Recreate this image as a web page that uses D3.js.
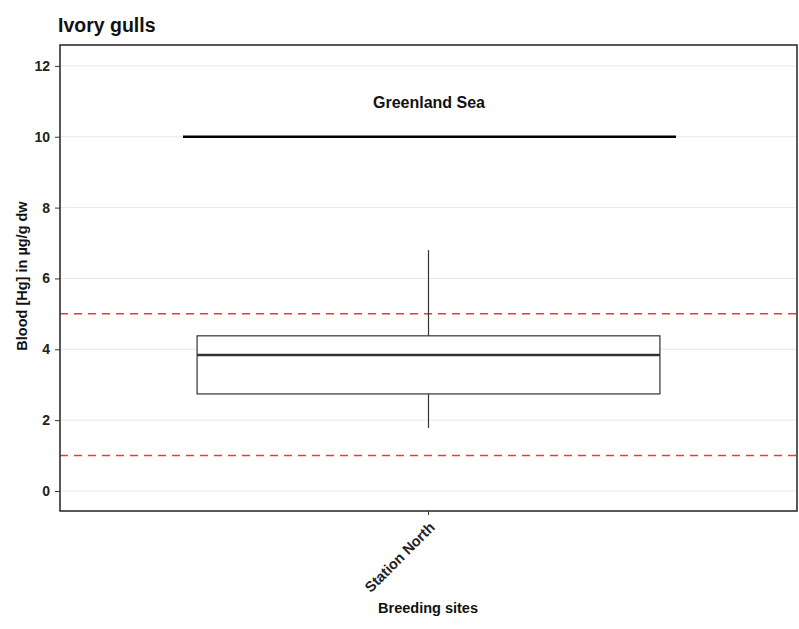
<!DOCTYPE html>
<html><head><meta charset="utf-8">
<script src="https://cdn.jsdelivr.net/npm/d3@7"></script>
<style>body{margin:0;background:#fff}text{font-family:"Liberation Sans",Arial,sans-serif;font-weight:bold}</style>
</head><body>
<svg id="c" width="799" height="629"></svg>
<script>
const categories = ["Station North"];
const whiskerLow = [1.78];
const q1 = [2.74];
const median = [3.84];
const q3 = [4.38];
const whiskerHigh = [6.8];
const thresholds = [1, 5];
const yTicks = [0, 2, 4, 6, 8, 10, 12];
const regionLabel = ["Greenland Sea"];
const regionLineY = [10];
const regionLabelY = [11];

const svg = d3.select("#c");
const L = 60, R = 797, T = 45, B = 511;
const y = d3.scaleLinear().domain([-0.565, 12.59]).range([B, T]);
const x = d3.scaleBand().domain(categories).range([L, R]);
const xc = c => x(c) + x.bandwidth() / 2;

svg.append("text").attr("x", 58).attr("y", 32).style("font-size", "19.5px").attr("fill", "#111").text("Ivory gulls");

// grid
svg.append("g").selectAll("line").data(yTicks).join("line")
  .attr("x1", L).attr("x2", R).attr("y1", d => y(d)).attr("y2", d => y(d))
  .attr("stroke", "#e8e8e8").attr("stroke-width", 1);

// region line + label
svg.append("line").attr("x1", 183).attr("x2", 676)
  .attr("y1", y(regionLineY[0])).attr("y2", y(regionLineY[0]))
  .attr("stroke", "#000").attr("stroke-width", 2.5);
svg.append("text").attr("x", 429).attr("y", y(regionLabelY[0]) + 6.5)
  .attr("text-anchor", "middle").style("font-size", "16px").attr("fill", "#111").text(regionLabel[0]);

// thresholds
svg.append("g").selectAll("line").data(thresholds).join("line")
  .attr("x1", L).attr("x2", R).attr("y1", d => y(d)).attr("y2", d => y(d))
  .attr("stroke", "#f03b32").attr("stroke-width", 1.5).attr("stroke-dasharray", "8,6");

// boxplot
const bw = x.bandwidth() * 0.628;
const g = svg.append("g");
categories.forEach((c, i) => {
  const cx = xc(c);
  g.append("line").attr("x1", cx).attr("x2", cx).attr("y1", y(q3[i])).attr("y2", y(whiskerHigh[i])).attr("stroke", "#333").attr("stroke-width", 1.2);
  g.append("line").attr("x1", cx).attr("x2", cx).attr("y1", y(q1[i])).attr("y2", y(whiskerLow[i])).attr("stroke", "#333").attr("stroke-width", 1.2);
  g.append("rect").attr("x", cx - bw / 2).attr("width", bw).attr("y", y(q3[i])).attr("height", y(q1[i]) - y(q3[i]))
    .attr("fill", "#fff").attr("stroke", "#333").attr("stroke-width", 1.2);
  g.append("line").attr("x1", cx - bw / 2).attr("x2", cx + bw / 2).attr("y1", y(median[i])).attr("y2", y(median[i]))
    .attr("stroke", "#333").attr("stroke-width", 2.6);
});

// panel border
svg.append("rect").attr("x", L).attr("y", T).attr("width", R - L).attr("height", B - T)
  .attr("fill", "none").attr("stroke", "#222").attr("stroke-width", 1.5);

// y axis
const ya = svg.append("g").attr("transform", `translate(${L},0)`)
  .call(d3.axisLeft(y).tickValues(yTicks).tickSize(5).tickPadding(5));
ya.select(".domain").remove();
ya.selectAll("line").attr("stroke", "#333");
ya.selectAll("text").style("font-size", "14px").attr("fill", "#222").style("font-family", "Liberation Sans, Arial, sans-serif").style("font-weight", "bold");

// x axis
const xa = svg.append("g").attr("transform", `translate(0,${B})`)
  .call(d3.axisBottom(x).tickSize(4).tickPadding(3));
xa.select(".domain").remove();
xa.selectAll("line").attr("stroke", "#333");
xa.selectAll("text").style("font-size", "14.5px").attr("fill", "#222").style("font-family", "Liberation Sans, Arial, sans-serif").style("font-weight", "bold")
  .attr("text-anchor", "end").attr("y", 0).attr("dy", "0.71em").attr("transform", "translate(0,10) rotate(-45)");

svg.append("text").attr("x", 428).attr("y", 613).attr("text-anchor", "middle").style("font-size", "14.5px").attr("fill", "#111").text("Breeding sites");
svg.append("text").attr("transform", `translate(27,${(T + B) / 2 - 2}) rotate(-90)`).attr("text-anchor", "middle")
  .style("font-size", "14.5px").attr("fill", "#111").text("Blood [Hg] in µg/g dw");
</script>
</body></html>
